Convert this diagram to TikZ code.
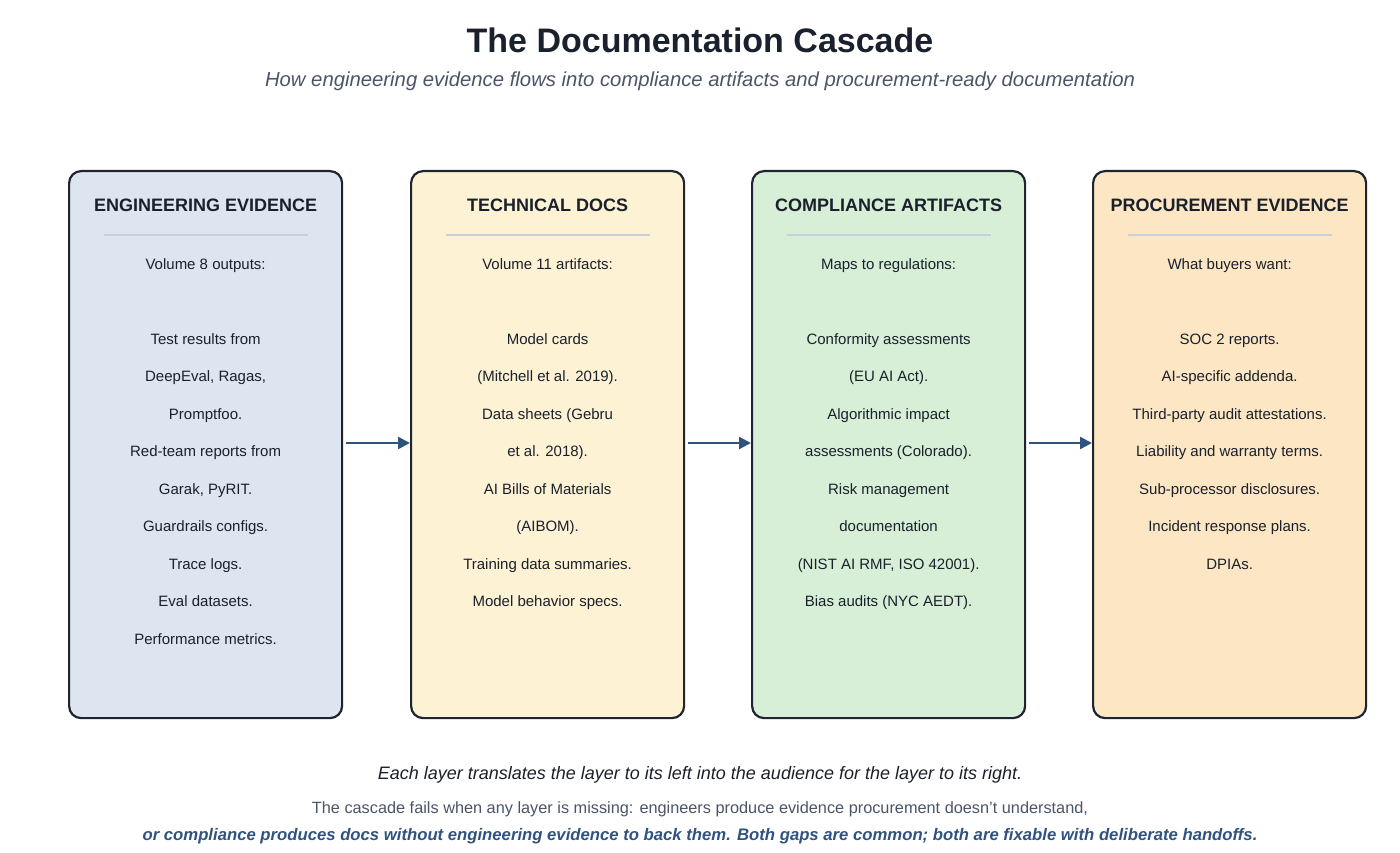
\documentclass[tikz,border=0pt]{standalone}
\usepackage{fontspec}
\setmainfont{Liberation Sans}
\usetikzlibrary{arrows.meta}
\definecolor{bord}{HTML}{1F2430}
\definecolor{fA}{HTML}{DDE6F0}
\definecolor{fB}{HTML}{FDF2D4}
\definecolor{fC}{HTML}{D7EFD6}
\definecolor{fD}{HTML}{FDE6C3}
\definecolor{sep}{HTML}{C8D0DC}
\definecolor{arr}{HTML}{2F5280}
\definecolor{sub}{HTML}{4A5568}
\definecolor{txt}{HTML}{1A202C}
\tikzset{x=1pt,y=-1pt,
 layer/.style={draw=bord,line width=2.2pt,rounded corners=12pt,minimum width=273pt,minimum height=547pt,anchor=north west,inner sep=0pt},
 hdr/.style={font=\fontsize{18}{22}\selectfont\bfseries,text=txt},
 body/.style={font=\fontsize{15}{37.5}\selectfont,text=txt,align=center,anchor=north},
 flow/.style={draw=arr,line width=2.5pt,-{Triangle[length=12pt,width=12pt]}}}
\begin{document}
\begin{tikzpicture}
\useasboundingbox (0,0) rectangle (1400,853);
\node[font=\fontsize{34}{38}\selectfont\bfseries,text=txt] (title) at (700,40) {The Documentation Cascade};
\node[font=\fontsize{20.3}{24}\selectfont\itshape,text=sub] (subt) at (700,81) {How engineering evidence flows into compliance artifacts and procurement-ready documentation};
\foreach \n/\x/\c/\h/\i/\b in {
 A/68/fA/ENGINEERING EVIDENCE/Volume 8 outputs:/{Test results from\\DeepEval, Ragas,\\Promptfoo.\\Red-team reports from\\Garak, PyRIT.\\Guardrails configs.\\Trace logs.\\Eval datasets.\\Performance metrics.},
 B/410/fB/TECHNICAL DOCS/Volume 11 artifacts:/{Model cards\\(Mitchell et al. 2019).\\Data sheets (Gebru\\et al. 2018).\\AI Bills of Materials\\(AIBOM).\\Training data summaries.\\Model behavior specs.},
 C/751/fC/COMPLIANCE ARTIFACTS/Maps to regulations:/{Conformity assessments\\(EU AI Act).\\Algorithmic impact\\assessments (Colorado).\\Risk management\\documentation\\(NIST AI RMF, ISO 42001).\\Bias audits (NYC AEDT).},
 D/1092/fD/PROCUREMENT EVIDENCE/What buyers want:/{SOC 2 reports.\\AI-specific addenda.\\Third-party audit attestations.\\Liability and warranty terms.\\Sub-processor disclosures.\\Incident response plans.\\DPIAs.}}{
 \node[layer,fill=\c] (\n) at (\x,170) {};
 \node[hdr] (\n h) at ([xshift=0pt]\n.north |- 0,205) {\h};
 \draw[sep,line width=2.5pt] ([xshift=-102pt]\n.north |- 0,235) coordinate (\n s1) -- ([xshift=102pt]\n.north |- 0,235) coordinate (\n s2);
 \node[body] (\n i) at ([yshift=-85pt]\n.north) {\i};
 \node[body] (\n b) at ([yshift=-160pt]\n.north) {\b};
}
\draw[flow] (A.east |- 0,443) ++(3,0) coordinate (a1) -- (B.west |- 0,443);
\draw[flow] (B.east |- 0,443) ++(3,0) coordinate (a2) -- (C.west |- 0,443);
\draw[flow] (C.east |- 0,443) ++(3,0) coordinate (a3) -- (D.west |- 0,443);
\node[font=\fontsize{18}{22}\selectfont\itshape,text=txt] (n1) at (700,775) {Each layer translates the layer to its left into the audience for the layer to its right.};
\node[font=\fontsize{16.3}{20}\selectfont,text=sub] (n2) at (700,809) {The cascade fails when any layer is missing: engineers produce evidence procurement doesn’t understand,};
\node[font=\fontsize{16.7}{20}\selectfont\bfseries\itshape,text=arr] (n3) at (700,836) {or compliance produces docs without engineering evidence to back them. Both gaps are common; both are fixable with deliberate handoffs.};
\end{tikzpicture}
\end{document}
